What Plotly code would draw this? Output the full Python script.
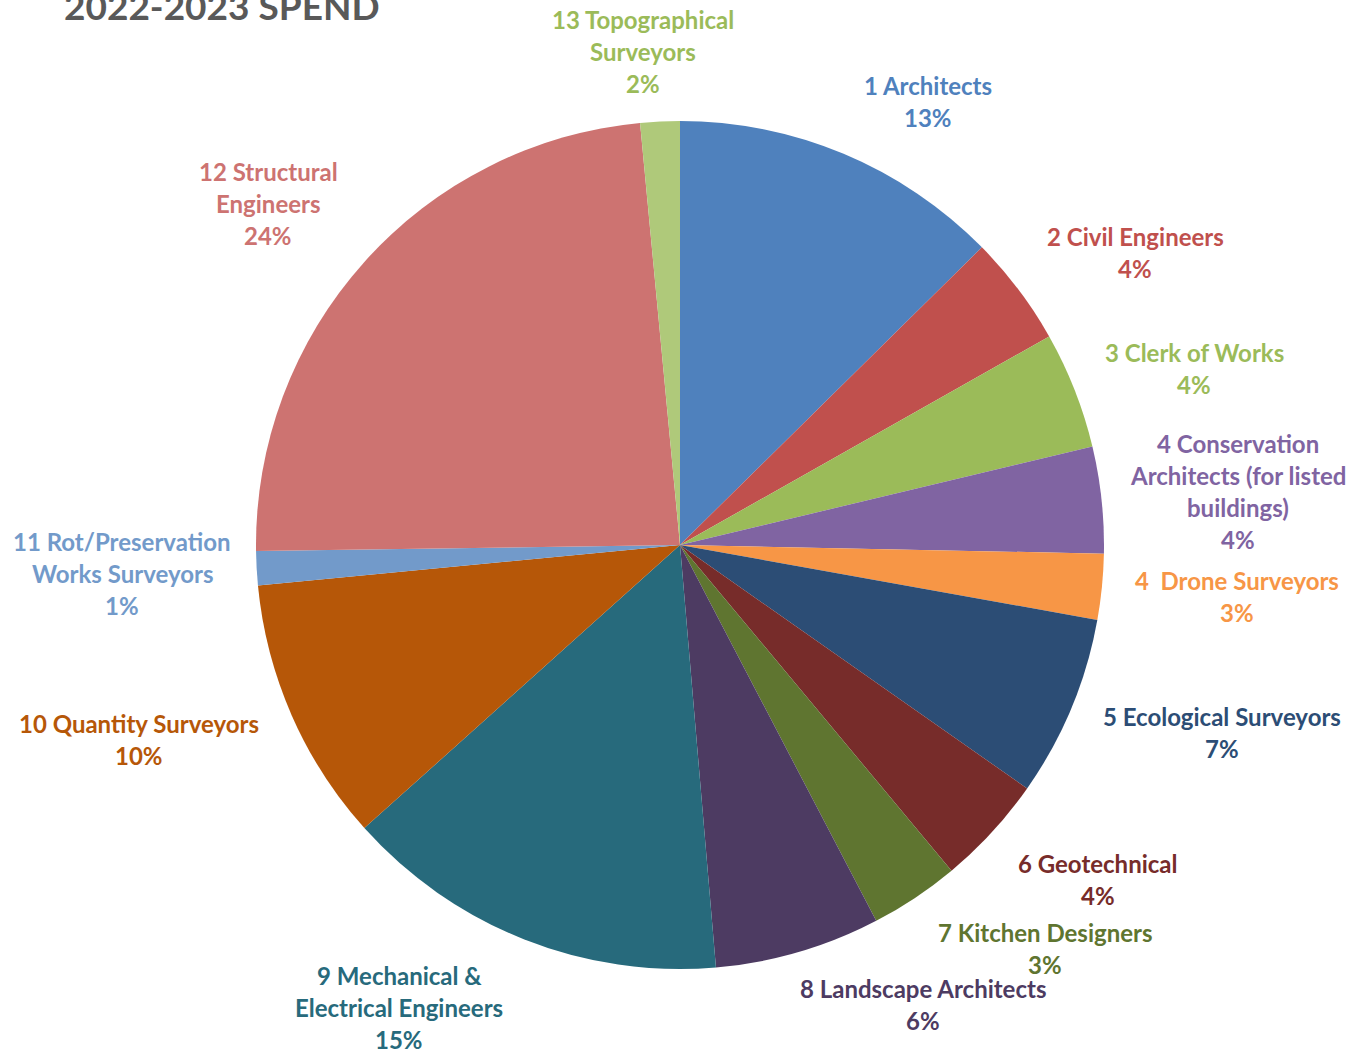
import plotly.graph_objects as go

categories = [
    "1 Architects", "2 Civil Engineers", "3 Clerk of Works",
    "4 Conservation Architects (for listed buildings)", "4  Drone Surveyors",
    "5 Ecological Surveyors", "6 Geotechnical", "7 Kitchen Designers",
    "8 Landscape Architects", "9 Mechanical & Electrical Engineers",
    "10 Quantity Surveyors", "11 Rot/Preservation Works Surveyors",
    "12 Structural Engineers", "13 Topographical Surveyors",
]
values = [12.6, 4.2, 4.45, 4.05, 2.5, 6.9, 4.2, 3.4, 6.3, 14.7, 10.1, 1.3, 23.7, 1.5]
pct_labels = ["13%", "4%", "4%", "4%", "3%", "7%", "4%", "3%", "6%", "15%", "10%", "1%", "24%", "2%"]
label_lines = [
    ["1 Architects"], ["2 Civil Engineers"], ["3 Clerk of Works"],
    ["4 Conservation", "Architects (for listed", "buildings)"], ["4  Drone Surveyors"],
    ["5 Ecological Surveyors"], ["6 Geotechnical"], ["7 Kitchen Designers"],
    ["8 Landscape Architects"], ["9 Mechanical &", "Electrical Engineers"],
    ["10 Quantity Surveyors"], ["11 Rot/Preservation", "Works Surveyors"],
    ["12 Structural", "Engineers"], ["13 Topographical", "Surveyors"],
]
colors = ["#4F81BD", "#C0504D", "#9BBB59", "#8064A2", "#F79646", "#2C4D75", "#772C2A",
          "#5F7530", "#4D3B62", "#276A7C", "#B65708", "#729ACA", "#CD7371", "#AFC97A"]
text_colors = ["#4F81BD", "#C0504D", "#9BBB59", "#8064A2", "#F79646", "#2C4D75", "#772C2A",
               "#5F7530", "#4D3B62", "#276A7C", "#B65708", "#729ACA", "#CD7371", "#9BBB59"]
# label anchor (centre x, first-line y) in pixels
label_pos = [(928, 86), (1135, 236), (1194, 352), (1238, 443), (1237, 580), (1222, 716),
             (1098, 863), (1045, 932), (923, 988), (399, 975), (139, 723), (122, 541),
             (268, 171), (643, 19)]

W, H = 1359, 1052
ML, MR, MT, MB = 256, 255, 121, 83
PW, PH = W - ML - MR, H - MT - MB
LINE = 32

fig = go.Figure(go.Pie(
    labels=categories, values=values, sort=False, direction="clockwise", rotation=0,
    marker=dict(colors=colors, line=dict(color="white", width=0)),
    textinfo="none", hoverinfo="label+percent", showlegend=False,
))

annotations = []
for lines, pct, (cx, cy), col in zip(label_lines, pct_labels, label_pos, text_colors):
    for i, line in enumerate(lines + [pct]):
        py = cy + i * LINE
        annotations.append(dict(
            x=(cx - ML) / PW, y=1 - (py - MT) / PH, xref="paper", yref="paper",
            text="<b>" + line + "</b>", showarrow=False, xanchor="center", yanchor="middle",
            font=dict(family="Lato", size=24, color=col),
        ))
annotations.append(dict(
    x=(62 - ML) / PW, y=1 - (6 - MT) / PH, xref="paper", yref="paper",
    text="<b>2022-2023 SPEND</b>", showarrow=False, xanchor="left", yanchor="middle",
    font=dict(family="Lato", size=37, color="#595959"),
))

fig.update_layout(
    width=W, height=H, margin=dict(l=ML, r=MR, t=MT, b=MB, pad=0),
    paper_bgcolor="white", plot_bgcolor="white",
    font=dict(family="Lato", size=24),
    annotations=annotations,
)

fig.write_html("out.html", post_script="document.body.style.margin='0';",
               config={"displayModeBar": False})
